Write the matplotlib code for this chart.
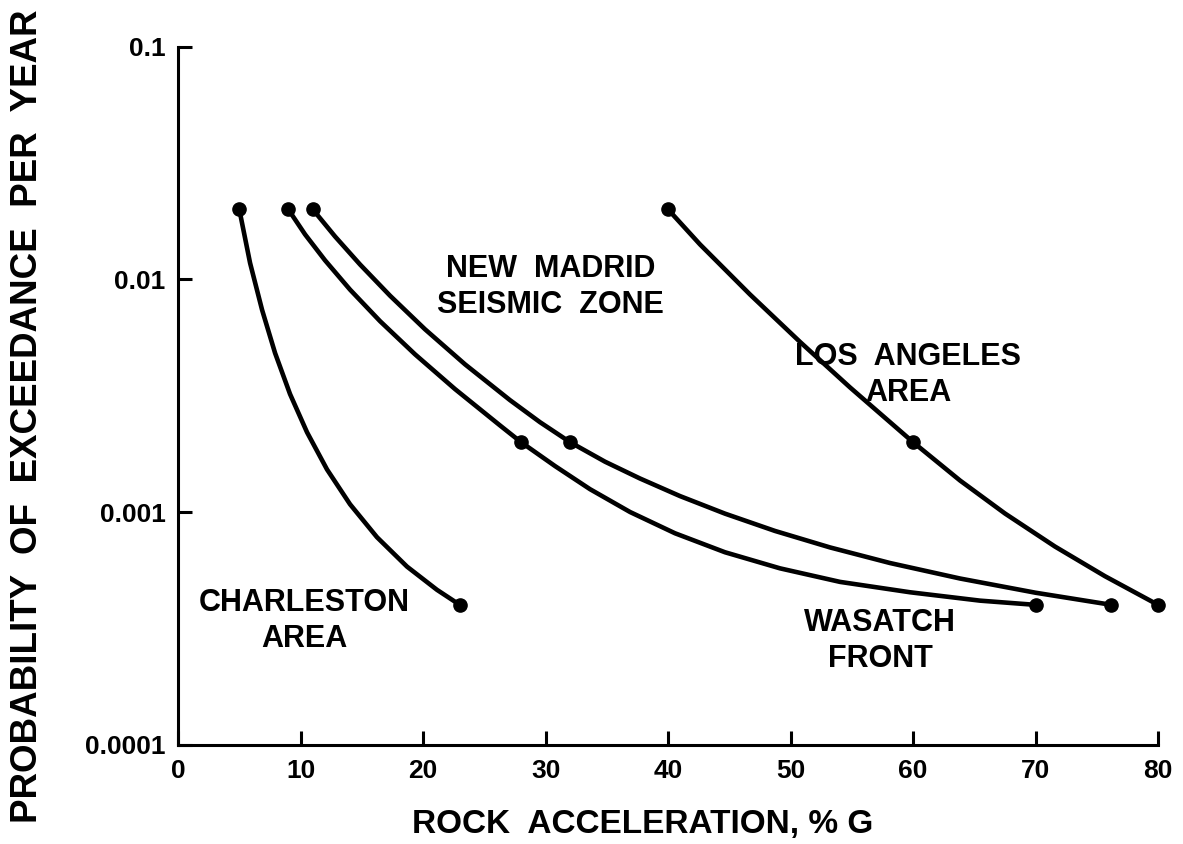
import matplotlib
matplotlib.use("Agg")
import matplotlib.pyplot as plt
from matplotlib.ticker import FixedLocator, FixedFormatter, NullLocator

# Hazard curves: rock acceleration (% g) vs annual probability of exceedance
charleston_x = [5.0, 5.88, 6.86, 7.92, 9.14, 10.53, 12.16, 14.04, 16.24,
                18.69, 21.14, 23.0]
charleston_p = [0.020, 0.01177, 0.00740, 0.00483, 0.00322, 0.002205,
                0.001527, 0.001082, 0.000781, 0.000584, 0.000464, 0.00040]

wasatch_x = [9.0, 10.37, 12.00, 14.04, 16.49, 19.35, 22.61, 26.29, 28.0,
             30.78, 33.63, 36.90, 40.57, 44.65, 49.14, 54.04, 59.76, 65.47,
             70.0]
wasatch_p = [0.020, 0.01561, 0.01208, 0.009042, 0.006619, 0.004766, 0.003381,
             0.002358, 0.0020, 0.001578, 0.001256, 0.001002, 0.000812,
             0.000673, 0.000574, 0.000502, 0.000453, 0.000417, 0.00040]

madrid_x = [11.0, 12.82, 14.86, 17.31, 20.16, 23.43, 27.10, 29.55, 32.0,
            34.86, 37.71, 40.98, 44.65, 48.73, 53.22, 58.12, 63.84, 70.0,
            76.2]
madrid_p = [0.020, 0.01529, 0.01159, 0.008511, 0.006109, 0.004317, 0.003030,
            0.002436, 0.0020, 0.001648, 0.001396, 0.001173, 0.000986,
            0.000831, 0.000706, 0.000605, 0.000519, 0.000451, 0.00040]

la_x = [40.0, 42.61, 46.69, 50.78, 54.86, 60.0, 63.84, 67.51, 71.59, 75.67,
        80.0]
la_p = [0.020, 0.01414, 0.008620, 0.005387, 0.003435, 0.0020, 0.001368,
        0.000987, 0.000712, 0.000531, 0.00040]

# Computed points marked with dots on each curve
charleston_pts_x = [5.0, 23.0]
charleston_pts_p = [0.020, 0.00040]
wasatch_pts_x = [9.0, 28.0, 70.0]
wasatch_pts_p = [0.020, 0.0020, 0.00040]
madrid_pts_x = [11.0, 32.0, 76.2]
madrid_pts_p = [0.020, 0.0020, 0.00040]
la_pts_x = [40.0, 60.0, 80.0]
la_pts_p = [0.020, 0.0020, 0.00040]

x_ticks = [0, 10, 20, 30, 40, 50, 60, 70, 80]
x_tick_labels = ["0", "10", "20", "30", "40", "50", "60", "70", "80"]
y_ticks = [0.0001, 0.001, 0.01, 0.1]
y_tick_labels = ["0.0001", "0.001", "0.01", "0.1"]

plt.rcParams["font.family"] = ["Liberation Sans", "DejaVu Sans"]
plt.rcParams["font.weight"] = "bold"

fig = plt.figure(figsize=(11.83, 8.44), dpi=100)
ax = fig.add_axes([0.1505, 0.1173, 0.8284, 0.8274])

ax.set_yscale("log")
ax.set_xlim(0, 80)
ax.set_ylim(1e-4, 1e-1)

curves = [
    (charleston_x, charleston_p, charleston_pts_x, charleston_pts_p),
    (wasatch_x, wasatch_p, wasatch_pts_x, wasatch_pts_p),
    (madrid_x, madrid_p, madrid_pts_x, madrid_pts_p),
    (la_x, la_p, la_pts_x, la_pts_p),
]
for cx, cp, px, pp in curves:
    ax.plot(cx, cp, color="black", lw=3.3, solid_capstyle="round",
            solid_joinstyle="round", clip_on=False)
    ax.plot(px, pp, "o", color="black", ms=9.5, clip_on=False)

ax.xaxis.set_major_locator(FixedLocator(x_ticks))
ax.xaxis.set_major_formatter(FixedFormatter(x_tick_labels))
ax.yaxis.set_major_locator(FixedLocator(y_ticks))
ax.yaxis.set_major_formatter(FixedFormatter(y_tick_labels))
ax.yaxis.set_minor_locator(NullLocator())
ax.xaxis.set_minor_locator(NullLocator())

for side in ("top", "right"):
    ax.spines[side].set_visible(False)
for side in ("left", "bottom"):
    ax.spines[side].set_linewidth(2.2)

ax.tick_params(axis="both", direction="in", length=10, width=2.2,
               labelsize=19)
ax.tick_params(axis="y", pad=9)
ax.tick_params(axis="x", pad=10)
for lbl in ax.get_xticklabels() + ax.get_yticklabels():
    lbl.set_fontweight("bold")

label_kw = dict(ha="center", va="center", fontsize=22, fontweight="bold",
                linespacing=1.25)
ax.text(30.4, 0.0093, "NEW  MADRID\nSEISMIC  ZONE", **label_kw)
ax.text(59.6, 0.0039, "LOS  ANGELES\nAREA", **label_kw)
ax.text(10.3, 0.00034, "CHARLESTON\nAREA", **label_kw)
ax.text(57.3, 0.00028, "WASATCH\nFRONT", **label_kw)

fig.text(643 / 1183, 1 - 824 / 844, "ROCK  ACCELERATION, % G",
         ha="center", va="center", fontsize=24, fontweight="bold")
fig.text(28 / 1183, 1 - 416 / 844, "PROBABILITY  OF  EXCEEDANCE  PER  YEAR",
         ha="center", va="center", rotation=90, fontsize=26.5,
         fontweight="bold")

fig.savefig("out.png", dpi=100, facecolor="white")
